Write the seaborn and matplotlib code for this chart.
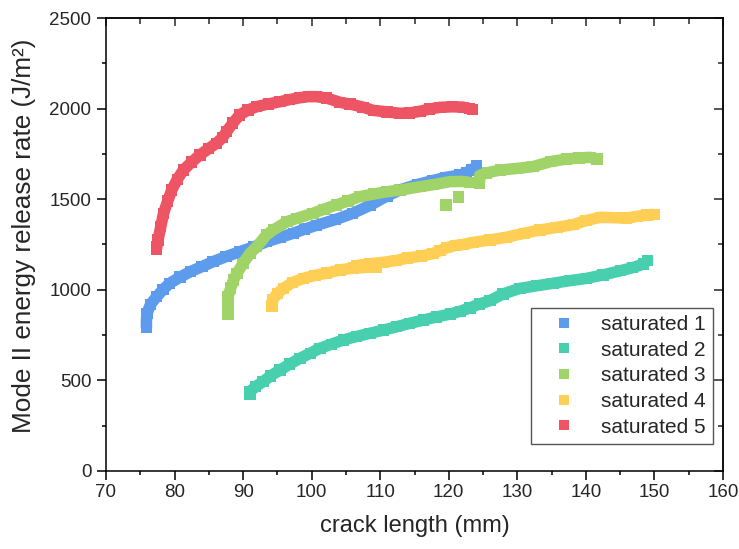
import matplotlib
matplotlib.use("Agg")
import matplotlib.pyplot as plt
import numpy as np
import pandas as pd
import seaborn as sns
from matplotlib.ticker import MultipleLocator

# values (crack length mm, G_II J/m^2)
sat1_x = [75.9, 75.9, 76.0, 76.5, 77.4, 78.3, 79.3, 80.8, 82.3, 84.0, 85.6, 87.5, 89.5, 91.5,
          93.4, 95.5, 97.3, 99.0, 100.7, 103.5, 106.0, 108.5, 111.0, 113.0, 115.5, 117.7,
          119.5, 121.6, 122.6, 123.3, 124.0, 124.0]
sat1_y = [790, 830, 871, 920, 962, 1000, 1036, 1070, 1100, 1128, 1155, 1183, 1210, 1236,
          1265, 1290, 1312, 1335, 1356, 1388, 1422, 1466, 1518, 1553, 1582, 1603,
          1620, 1633, 1645, 1665, 1660, 1686]

sat2_x = [91.0, 91.0, 91.8, 92.9, 94.0, 95.4, 96.8, 98.3, 99.8, 101.2, 102.9, 104.6, 106.5,
          108.5, 110.5, 112.4, 114.3, 116.3, 118.2, 120.2, 121.7, 123.1, 124.5, 126.0, 127.9,
          130.4, 132.8, 135.2, 137.6, 140.1, 142.5, 145.0, 146.8, 148.4, 149.0]
sat2_y = [422, 438, 465, 493, 525, 557, 590, 622, 650, 677, 700, 723, 742,
          760, 778, 796, 815, 833, 850, 866, 882, 900, 922, 940, 977,
          1008, 1022, 1036, 1050, 1063, 1082, 1105, 1122, 1142, 1163]

sat3_x = [87.8, 87.8, 87.8, 88.2, 88.6, 89.1, 90.0, 91.0, 92.0, 93.4, 94.4, 96.4, 97.8,
          100.2, 101.8, 103.6, 105.3, 107.0, 109.0, 110.9, 112.9, 115.8, 117.7, 120.2,
          122.0, 123.0,
          124.5, 124.5, 125.5, 127.5, 130.0, 132.3, 134.8, 137.2, 139.0, 140.6, 141.6,
          119.6, 121.4]
sat3_y = [864, 910, 962, 1010, 1054, 1090, 1146, 1201, 1238, 1302, 1330, 1376, 1394,
          1422, 1445, 1468, 1490, 1514, 1528, 1541, 1550, 1569, 1580, 1597,
          1598, 1593,
          1590, 1631, 1645, 1661, 1670, 1680, 1707, 1722, 1728, 1731, 1722,
          1468, 1512]
sat3_seg = [0] * 26 + [1] * 11 + [2, 3]

sat4_x = [94.2, 94.3, 95.0, 95.9, 97.2, 98.8, 100.5, 102.2, 104.2, 106.1, 108.0, 109.5,
          106.6, 108.5, 110.5, 112.4, 114.0, 116.0, 117.7, 118.7, 119.7, 121.0, 122.1,
          123.6, 126.0, 128.4, 131.0, 133.3, 135.8, 138.2, 140.0, 142.1, 144.0, 145.9,
          147.5, 148.9, 150.0]
sat4_y = [910, 944, 980, 1008, 1040, 1063, 1080, 1092, 1110, 1120, 1124, 1126,
          1134, 1144, 1152, 1162, 1176, 1186, 1200, 1216, 1232, 1245, 1250,
          1262, 1275, 1290, 1312, 1330, 1345, 1360, 1382, 1400, 1398, 1396,
          1405, 1413, 1416]
sat4_seg = [0] * 12 + [1] * 25

sat5_x = [77.4, 77.4, 77.6, 78.0, 78.4, 79.0, 79.6, 80.4, 81.3, 82.5, 83.7, 85.0, 86.1,
          87.0, 87.6, 88.5, 89.5, 90.7, 92.0, 93.7, 95.4, 96.8, 98.3, 99.5, 100.7, 102.2,
          104.1, 105.6, 107.5, 109.0, 111.0, 112.9, 114.3, 115.8, 117.2, 118.7, 120.5,
          122.1, 123.0, 123.5]
sat5_y = [1222, 1236, 1275, 1350, 1422, 1490, 1551, 1610, 1661, 1705, 1744, 1780, 1808,
          1840, 1873, 1920, 1965, 1992, 2011, 2026, 2038, 2050, 2060, 2066, 2066, 2058,
          2035, 2025, 2008, 1990, 1982, 1974, 1976, 1985, 1998, 2007, 2010,
          2008, 2000, 1996]

labels = ["saturated 1", "saturated 2", "saturated 3", "saturated 4", "saturated 5"]
colors = ["#5D9CEC", "#48CFAD", "#A0D468", "#FFCE54", "#ED5565"]

series = [
    (sat1_x, sat1_y, [0] * len(sat1_x)),
    (sat2_x, sat2_y, [0] * len(sat2_x)),
    (sat3_x, sat3_y, sat3_seg),
    (sat4_x, sat4_y, sat4_seg),
    (sat5_x, sat5_y, [0] * len(sat5_x)),
]
frames = []
for name, (xs, ys, segs) in zip(labels, series):
    frames.append(pd.DataFrame({"crack": xs, "G": ys, "series": name,
                                "seg": [f"{name}-{s}" for s in segs]}))
df = pd.concat(frames, ignore_index=True)

sns.set_style("white")
plt.rcParams["font.family"] = ["Liberation Sans", "DejaVu Sans"]

fig = plt.figure(figsize=(7.39, 5.49), dpi=100)
ax = fig.add_axes([0.1434, 0.1421, 0.835, 0.8251])
palette = dict(zip(labels, colors))

# thick band through the points, then square markers on top
sns.lineplot(data=df, x="crack", y="G", hue="series", units="seg", estimator=None,
             sort=False, palette=palette, linewidth=8.3, legend=False, ax=ax,
             solid_capstyle="butt")
sns.scatterplot(data=df, x="crack", y="G", hue="series", palette=palette, marker="s",
                s=66, linewidth=0, ax=ax)

ax.set_xlim(70, 160)
ax.set_ylim(0, 2500)
ax.xaxis.set_major_locator(MultipleLocator(10))
ax.xaxis.set_minor_locator(MultipleLocator(5))
ax.yaxis.set_major_locator(MultipleLocator(500))
ax.yaxis.set_minor_locator(MultipleLocator(250))
ax.tick_params(which="both", bottom=True, left=True, top=False, right=False)
ax.tick_params(which="major", direction="out", length=6.5, width=1.1, labelsize=13.5,
               pad=4, color="black")
ax.tick_params(which="minor", direction="out", length=3, width=1.1, color="black")
ax.tick_params(axis="x", which="major", pad=3)

for side in ["top", "right", "bottom", "left"]:
    ax.spines[side].set_visible(True)
    ax.spines[side].set_color("black")
    ax.spines[side].set_linewidth(1.1)

top = ax.secondary_xaxis("top")
top.xaxis.set_major_locator(MultipleLocator(10))
top.xaxis.set_minor_locator(MultipleLocator(5))
top.tick_params(which="both", top=True, bottom=False)
top.tick_params(which="major", direction="in", length=5.5, width=1.1, labeltop=False)
top.tick_params(which="minor", direction="in", length=4, width=1.1)
top.spines["top"].set_linewidth(1.1)
right = ax.secondary_yaxis("right")
right.yaxis.set_major_locator(MultipleLocator(500))
right.yaxis.set_minor_locator(MultipleLocator(250))
right.tick_params(which="both", right=True, left=False)
right.tick_params(which="major", direction="in", length=6.5, width=1.1, labelright=False)
right.tick_params(which="minor", direction="in", length=3.5, width=1.1)
right.spines["right"].set_linewidth(1.1)

ax.set_xlabel("crack length (mm)", fontsize=17, labelpad=10)
ax.set_ylabel("Mode II energy release rate (J/m²)", fontsize=18.8)
ax.yaxis.set_label_coords(-0.113, 0.52)

handles, leg_labels = ax.get_legend_handles_labels()
leg = ax.legend(handles, leg_labels, loc="lower right", bbox_to_anchor=(0.984, 0.06),
                fontsize=15, frameon=True, fancybox=False, edgecolor="#555555",
                framealpha=1, borderpad=0.35, labelspacing=0.32, handlelength=2.4,
                handletextpad=0.6, markerscale=0.9, borderaxespad=0)
leg.get_frame().set_linewidth(1.0)

fig.savefig("out.png", dpi=100)
